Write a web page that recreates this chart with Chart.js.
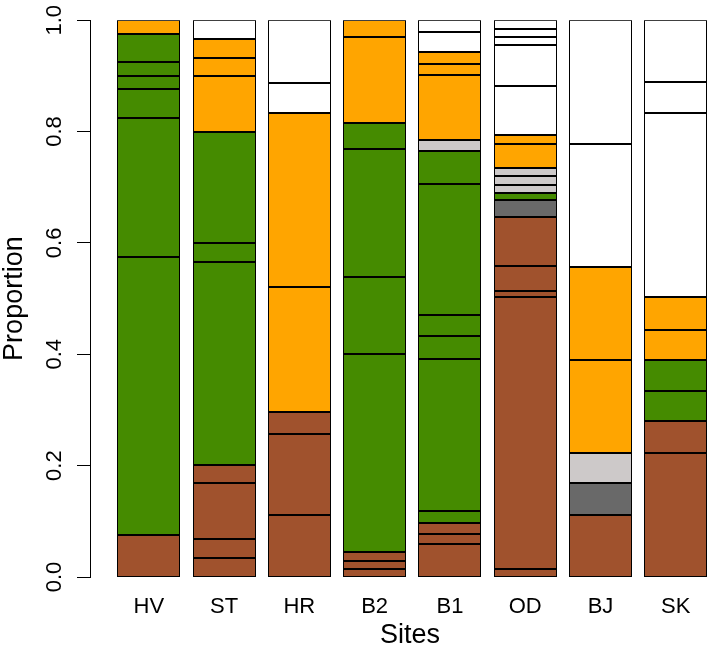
<!DOCTYPE html>
<html>
<head>
<meta charset="utf-8">
<script src="https://cdn.jsdelivr.net/npm/chart.js@4.4.1/dist/chart.umd.min.js"></script>
<style>
  html, body { margin: 0; padding: 0; background: #fff; overflow: hidden; }
</style>
</head>
<body>
<canvas id="siteChart" width="730" height="652"></canvas>
<script>
// sites on the x axis
const sites = ['HV', 'ST', 'HR', 'B2', 'B1', 'OD', 'BJ', 'SK'];
const yTicks = [0, 0.2, 0.4, 0.6, 0.8, 1.0];

// cumulative proportion at the top of each segment (bottom -> top) and its group
const topsHV = [0.076, 0.575, 0.825, 0.876, 0.900, 0.925, 0.976, 1.0];
const groupsHV = ['brown', 'green', 'green', 'green', 'green', 'green', 'green', 'orange'];

const topsST = [0.034, 0.068, 0.168, 0.201, 0.566, 0.599, 0.800, 0.900, 0.933, 0.966, 1.0];
const groupsST = ['brown', 'brown', 'brown', 'brown', 'green', 'green', 'green', 'orange', 'orange', 'orange', 'white'];

const topsHR = [0.112, 0.257, 0.297, 0.520, 0.833, 0.888, 1.0];
const groupsHR = ['brown', 'brown', 'brown', 'orange', 'orange', 'white', 'white'];

const topsB2 = [0.015, 0.029, 0.045, 0.401, 0.538, 0.769, 0.815, 0.969, 1.0];
const groupsB2 = ['brown', 'brown', 'brown', 'green', 'green', 'green', 'green', 'orange', 'orange'];

const topsB1 = [0.060, 0.078, 0.097, 0.118, 0.392, 0.432, 0.471, 0.706, 0.765, 0.784, 0.902, 0.921, 0.942, 0.979, 1.0];
const groupsB1 = ['brown', 'brown', 'brown', 'green', 'green', 'green', 'green', 'green', 'green', 'lightgrey', 'orange', 'orange', 'orange', 'white', 'white'];

const topsOD = [0.015, 0.502, 0.513, 0.559, 0.647, 0.677, 0.689, 0.704, 0.720, 0.735, 0.778, 0.793, 0.882, 0.955, 0.970, 0.985, 1.0];
const groupsOD = ['brown', 'brown', 'brown', 'brown', 'brown', 'darkgrey', 'green', 'lightgrey', 'lightgrey', 'lightgrey', 'orange', 'orange', 'white', 'white', 'white', 'white', 'white'];

const topsBJ = [0.112, 0.168, 0.222, 0.389, 0.557, 0.778, 1.0];
const groupsBJ = ['brown', 'darkgrey', 'lightgrey', 'orange', 'orange', 'white', 'white'];

const topsSK = [0.222, 0.280, 0.334, 0.389, 0.444, 0.502, 0.833, 0.889, 1.0];
const groupsSK = ['brown', 'brown', 'green', 'green', 'orange', 'orange', 'white', 'white', 'white'];

const groupColours = {
  brown: '#A0522D',
  darkgrey: '#696969',
  green: '#458B00',
  lightgrey: '#CDC9C9',
  orange: '#FFA500',
  white: '#FFFFFF'
};

const tops = [topsHV, topsST, topsHR, topsB2, topsB1, topsOD, topsBJ, topsSK];
const groups = [groupsHV, groupsST, groupsHR, groupsB2, groupsB1, groupsOD, groupsBJ, groupsSK];

// one dataset per layer, each bar segment is a floating bar [bottom, top]
const nLayers = Math.max(...tops.map(t => t.length));
const datasets = [];
for (let k = 0; k < nLayers; k++) {
  const pts = [];
  tops.forEach((t, i) => {
    if (k < t.length) {
      pts.push({ x: i, y: [k === 0 ? 0 : t[k - 1], t[k]], g: groups[i][k] });
    }
  });
  datasets.push({
    data: pts,
    backgroundColor: c => (c.raw ? groupColours[c.raw.g] : '#fff'),
    borderColor: '#000',
    borderWidth: 1,
    borderSkipped: false,
    inflateAmount: 0,
    grouped: false,
    barPercentage: 0.837,
    categoryPercentage: 1
  });
}

// snap bar edges to whole pixels so the black outlines stay crisp
const snapBars = {
  id: 'snapBars',
  beforeDatasetsDraw(chart) {
    chart.data.datasets.forEach((d, i) => {
      chart.getDatasetMeta(i).data.forEach(el => {
        const l = Math.round(el.x - el.width / 2);
        const r = Math.round(el.x + el.width / 2);
        el.x = (l + r) / 2;
        el.width = r - l;
        el.y = Math.round(el.y);
        el.base = Math.round(el.base);
      });
    });
  }
};

Chart.defaults.font.family = "'Liberation Sans', Arial, sans-serif";
Chart.defaults.color = '#000';

const ctx = document.getElementById('siteChart').getContext('2d');
new Chart(ctx, {
  type: 'bar',
  data: { datasets: datasets },
  plugins: [snapBars],
  options: {
    responsive: false,
    animation: false,
    devicePixelRatio: 1,
    layout: { padding: { top: 15, right: 0, bottom: 0, left: 0 } },
    plugins: {
      legend: { display: false },
      tooltip: { enabled: false }
    },
    scales: {
      x: {
        type: 'linear',
        offset: false,
        min: -0.781,
        max: 7.72,
        afterBuildTicks: s => { s.ticks = sites.map((_, i) => ({ value: i })); },
        afterFit: s => { s.height = 75; },
        grid: { display: false, drawTicks: false, offset: false },
        border: { display: false },
        ticks: {
          callback: v => sites[v],
          font: { size: 22 },
          color: '#000',
          padding: 17,
          autoSkip: false,
          maxRotation: 0
        },
        title: {
          display: true,
          text: 'Sites',
          font: { size: 27, lineHeight: 1.2 },
          color: '#000',
          padding: { top: 0, bottom: 0 }
        }
      },
      y: {
        min: 0,
        max: 1,
        afterBuildTicks: s => { s.ticks = yTicks.map(v => ({ value: v })); },
        afterFit: s => { s.width = 90; },
        grid: { drawOnChartArea: false, drawTicks: true, tickLength: 13, color: '#000', lineWidth: 1 },
        border: { display: true, color: '#000', width: 1 },
        ticks: {
          callback: v => v.toFixed(1),
          font: { size: 22 },
          color: '#000',
          padding: 7,
          minRotation: 90,
          maxRotation: 90,
          crossAlign: 'center'
        },
        title: {
          display: true,
          text: 'Proportion',
          font: { size: 27, lineHeight: 0.9 },
          color: '#000',
          padding: { top: 2, bottom: 0 }
        }
      }
    }
  }
});
</script>
</body>
</html>
